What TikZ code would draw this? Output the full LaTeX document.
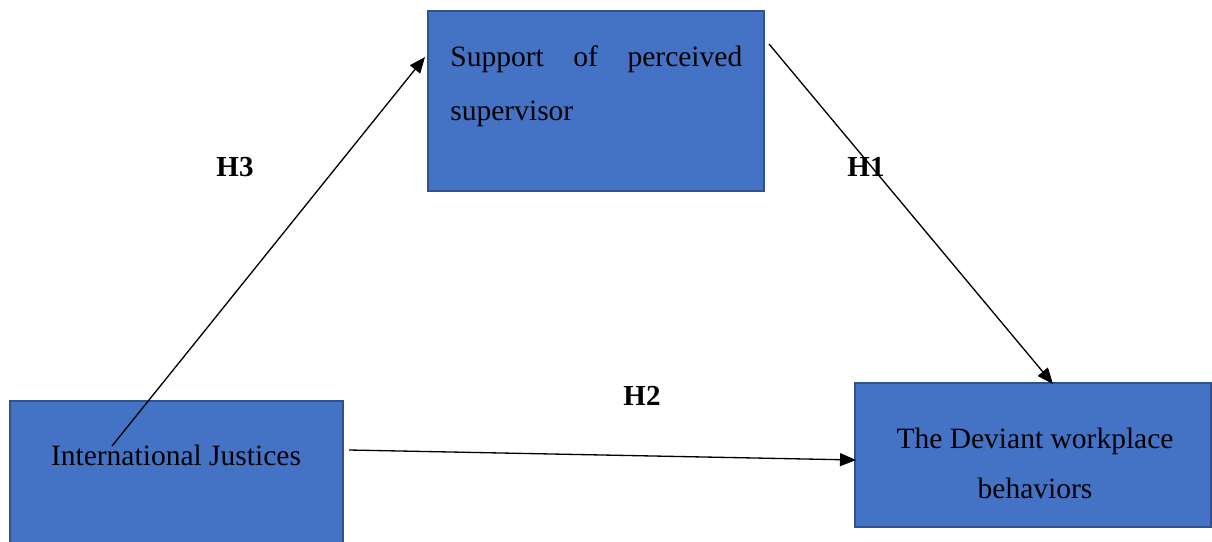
\documentclass[tikz,border=0pt]{standalone}
\usepackage{fontspec}
\setmainfont{Liberation Serif}
\usetikzlibrary{arrows.meta}
\definecolor{boxfill}{HTML}{4472C4}
\definecolor{boxline}{HTML}{2F528F}
\begin{document}
\begin{tikzpicture}[x=0.02cm,y=-0.02cm,
  varbox/.style={draw=boxline,fill=boxfill,line width=1.1pt},
  boxtext/.style={inner sep=0pt,font=\fontsize{16.8}{20}\selectfont},
  hlabel/.style={inner sep=0pt,font=\fontsize{16.5}{20}\selectfont\bfseries},
  link/.style={line width=0.75pt,-{Triangle[length=0.32cm,width=0.26cm]}}]
\useasboundingbox (0,0) rectangle (1212,541);
% boxes
\draw[varbox] (428,11) rectangle (764,191);
\draw[varbox] (10,401) rectangle (343,560);
\draw[varbox] (855,383) rectangle (1211,527);
% texts
\node[boxtext,anchor=base west] (sup1) at (450,66) {\hbox to 5.84cm{Support\hfill of\hfill perceived}};
\node[boxtext,anchor=base west] (sup2) at (450,120) {supervisor};
\node[boxtext,anchor=base] (ij) at (176,465) {International Justices};
\node[boxtext,anchor=base] (dev1) at (1035,448) {The Deviant workplace};
\node[boxtext,anchor=base] (dev2) at (1035,498) {behaviors};
% labels
\node[hlabel,anchor=base] (h3) at (235,176) {H3};
\node[hlabel,anchor=base] (h1) at (866,176) {H1};
\node[hlabel,anchor=base] (h2) at (642,405) {H2};
% connector ends
\coordinate (h3s) at (112,446);
\coordinate (h3e) at (425,57);
\coordinate (h1s) at (769,44);
\coordinate (h1e) at (1053,384);
\coordinate (h2s) at (349,450);
\coordinate (h2e) at (856,460);
\draw[link] (h3s) -- (h3e);
\draw[link] (h1s) -- (h1e);
\draw[link] (h2s) -- (h2e);
\end{tikzpicture}
\end{document}
